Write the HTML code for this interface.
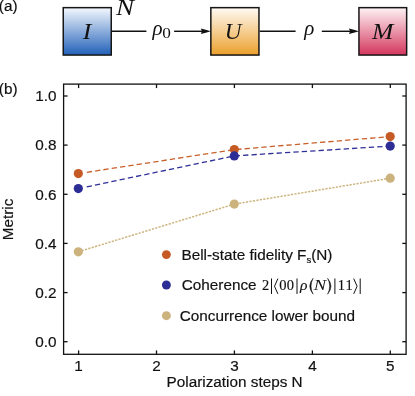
<!DOCTYPE html>
<html>
<head>
<meta charset="utf-8">
<title>Figure</title>
<style>
  html, body { margin: 0; padding: 0; background: #ffffff; }
  body { width: 415px; height: 396px; overflow: hidden; }
  svg { display: block; will-change: transform; }
  .sans { font-family: "Liberation Sans", sans-serif; font-size: 15.3px; fill: #111111; stroke: #111111; stroke-width: 0.18px; }
  .math { font-family: "Liberation Serif", serif; font-style: italic; fill: #111111; }
  .mathr { font-family: "Liberation Serif", serif; fill: #111111; }
</style>
</head>
<body>
<svg width="415" height="396" viewBox="0 0 415 396">
  <defs>
    <linearGradient id="gI" x1="0" y1="0" x2="0" y2="1">
      <stop offset="0" stop-color="#f4f8fd"/>
      <stop offset="1" stop-color="#2261ba"/>
    </linearGradient>
    <linearGradient id="gU" x1="0" y1="0" x2="0" y2="1">
      <stop offset="0" stop-color="#fffbf5"/>
      <stop offset="1" stop-color="#eba02c"/>
    </linearGradient>
    <linearGradient id="gM" x1="0" y1="0" x2="0" y2="1">
      <stop offset="0" stop-color="#fef3f5"/>
      <stop offset="1" stop-color="#d4365d"/>
    </linearGradient>
  </defs>
  <rect x="0" y="0" width="415" height="396" fill="#ffffff"/>

  <!-- (a) diagram -->
  <text class="sans" x="-1.2" y="10.9">(a)</text>

  <rect x="63.25" y="7.65" width="48.0" height="47.4" fill="url(#gI)" stroke="#161616" stroke-width="1.5"/>
  <rect x="210.85" y="7.65" width="48.1" height="47.4" fill="url(#gU)" stroke="#161616" stroke-width="1.5"/>
  <rect x="358.95" y="7.65" width="47.7" height="47.4" fill="url(#gM)" stroke="#161616" stroke-width="1.5"/>

  <text class="math" transform="translate(87 39) scale(1.15 1)" font-size="22.5" text-anchor="middle">I</text>
  <text class="math" transform="translate(233.1 39) scale(1.03 1)" font-size="22.5" text-anchor="middle">U</text>
  <text class="math" transform="translate(382.7 39) scale(1.14 1)" font-size="22.5" text-anchor="middle">M</text>
  <text class="math" transform="translate(125.0 15.4) scale(1.2 1)" font-size="22.5" text-anchor="middle">N</text>

  <g stroke="#111" stroke-width="1.45" fill="none">
    <line x1="112" y1="31.3" x2="146.4" y2="31.3"/>
    <line x1="174.1" y1="31.3" x2="203" y2="31.3"/>
    <line x1="259.7" y1="31.3" x2="295.6" y2="31.3"/>
    <line x1="321.8" y1="31.3" x2="351" y2="31.3"/>
  </g>
  <path d="M210.8 31.3 Q205.6 29.7 200.8 28.5 L202.0 31.3 L200.8 34.1 Q205.6 32.9 210.8 31.3 Z" fill="#111"/>
  <path d="M358.9 31.3 Q353.7 29.7 348.9 28.5 L350.1 31.3 L348.9 34.1 Q353.7 32.9 358.9 31.3 Z" fill="#111"/>

  <text class="math" x="152.4" y="35.0" font-size="21">ρ</text>
  <text class="mathr" transform="translate(166.5 38.2) scale(1.15 1)" text-anchor="middle" font-size="15">0</text>
  <text class="math" x="304.2" y="35.0" font-size="21">ρ</text>

  <!-- (b) chart -->
  <text class="sans" x="-1.2" y="94.4">(b)</text>

  <!-- frame -->
  <rect x="63.6" y="84.1" width="342.5" height="270.2" fill="none" stroke="#111" stroke-width="1.3"/>
  <g stroke="#111" stroke-width="1.3">
    <!-- x ticks bottom -->
    <line x1="78.6" y1="354.3" x2="78.6" y2="350.4"/>
    <line x1="156.5" y1="354.3" x2="156.5" y2="350.4"/>
    <line x1="234.4" y1="354.3" x2="234.4" y2="350.4"/>
    <line x1="312.4" y1="354.3" x2="312.4" y2="350.4"/>
    <line x1="390.3" y1="354.3" x2="390.3" y2="350.4"/>
    <!-- x ticks top -->
    <line x1="78.6" y1="84.1" x2="78.6" y2="88.1"/>
    <line x1="156.5" y1="84.1" x2="156.5" y2="88.1"/>
    <line x1="234.4" y1="84.1" x2="234.4" y2="88.1"/>
    <line x1="312.4" y1="84.1" x2="312.4" y2="88.1"/>
    <line x1="390.3" y1="84.1" x2="390.3" y2="88.1"/>
    <!-- y ticks left -->
    <line x1="63.6" y1="341.7" x2="67.6" y2="341.7"/>
    <line x1="63.6" y1="292.6" x2="67.6" y2="292.6"/>
    <line x1="63.6" y1="243.4" x2="67.6" y2="243.4"/>
    <line x1="63.6" y1="194.3" x2="67.6" y2="194.3"/>
    <line x1="63.6" y1="145.1" x2="67.6" y2="145.1"/>
    <line x1="63.6" y1="96.0" x2="67.6" y2="96.0"/>
    <!-- y ticks right -->
    <line x1="406.1" y1="341.7" x2="402.3" y2="341.7"/>
    <line x1="406.1" y1="292.6" x2="402.3" y2="292.6"/>
    <line x1="406.1" y1="243.4" x2="402.3" y2="243.4"/>
    <line x1="406.1" y1="194.3" x2="402.3" y2="194.3"/>
    <line x1="406.1" y1="145.1" x2="402.3" y2="145.1"/>
    <line x1="406.1" y1="96.0" x2="402.3" y2="96.0"/>
  </g>

  <!-- y tick labels -->
  <g class="sans" text-anchor="end">
    <text x="56.6" y="101.2">1.0</text>
    <text x="56.6" y="150.3">0.8</text>
    <text x="56.6" y="199.5">0.6</text>
    <text x="56.6" y="248.6">0.4</text>
    <text x="56.6" y="297.8">0.2</text>
    <text x="56.6" y="346.9">0.0</text>
  </g>
  <!-- x tick labels -->
  <g class="sans" text-anchor="middle">
    <text x="78.6" y="371">1</text>
    <text x="156.5" y="371">2</text>
    <text x="234.4" y="371">3</text>
    <text x="312.4" y="371">4</text>
    <text x="390.3" y="371">5</text>
  </g>
  <text class="sans" x="234.6" y="387" text-anchor="middle">Polarization steps N</text>
  <text class="sans" transform="translate(12.6 219.4) rotate(-90)" text-anchor="middle">Metric</text>

  <!-- data lines -->
  <polyline points="86.8,172.3 234.3,149.6 390.2,136.6" fill="none" stroke="#c8602c" stroke-width="1.3" stroke-dasharray="5.3 3.1"/>
  <polyline points="86.7,186.85 234.3,155.9 390.2,146.1" fill="none" stroke="#2f3097" stroke-width="1.3" stroke-dasharray="5.3 3.1"/>
  <polyline points="78.3,251.8 234.3,204.1 390.2,178.2" fill="none" stroke="#cdb47e" stroke-width="1.5" stroke-dasharray="2.2 1.3"/>

  <!-- data points -->
  <g fill="#c55a25">
    <circle cx="78.3" cy="173.6" r="4.6"/>
    <circle cx="234.3" cy="149.6" r="4.6"/>
    <circle cx="390.2" cy="136.6" r="4.6"/>
  </g>
  <g fill="#2c2d95">
    <circle cx="78.3" cy="188.6" r="4.6"/>
    <circle cx="234.3" cy="155.9" r="4.6"/>
    <circle cx="390.2" cy="146.1" r="4.6"/>
  </g>
  <g fill="#ccb27c">
    <circle cx="78.3" cy="251.8" r="4.6"/>
    <circle cx="234.3" cy="204.1" r="4.6"/>
    <circle cx="390.2" cy="178.2" r="4.6"/>
  </g>

  <!-- legend -->
  <circle cx="166.4" cy="254.6" r="4.45" fill="#c55a25"/>
  <circle cx="166.4" cy="285.0" r="4.45" fill="#2c2d95"/>
  <circle cx="166.4" cy="315.7" r="4.45" fill="#ccb27c"/>

  <text class="sans" x="181.5" y="259.6">Bell-state fidelity F<tspan font-size="9.5" dy="3">s</tspan><tspan dy="-3">(N)</tspan></text>
  <text class="sans" x="181.8" y="290.3">Coherence</text>
  <g class="mathr" font-size="14.5" text-anchor="middle" stroke="#111" stroke-width="0.15">
    <text x="265.7" y="290.4">2</text>
    <text x="282.8" y="290.4">0</text>
    <text x="290.4" y="290.4">0</text>
    <text x="341.3" y="290.4">1</text>
    <text x="349.2" y="290.4">1</text>
  </g>
  <text class="math" x="303.7" y="290.4" font-size="15.5" text-anchor="middle" stroke="#111" stroke-width="0.12">ρ</text>
  <text class="math" transform="translate(320 290.4) scale(1.2 1)" font-size="15.5" text-anchor="middle">N</text>
  <g stroke="#111" stroke-width="1.0" fill="none">
    <line x1="271.5" y1="278.5" x2="271.5" y2="294"/>
    <line x1="297.0" y1="278.5" x2="297.0" y2="294"/>
    <line x1="334.9" y1="278.5" x2="334.9" y2="294"/>
    <line x1="360.2" y1="278.5" x2="360.2" y2="294"/>
    <polyline points="277.9,278.6 274.5,286.25 277.9,293.9"/>
    <polyline points="353.7,278.6 357.1,286.25 353.7,293.9"/>
  </g>
  <path d="M313.1 278.3 Q306.3 286.25 313.1 294.2 Q308.9 286.25 313.1 278.3 Z" fill="#111" stroke="#111" stroke-width="0.5" stroke-linejoin="round"/>
  <path d="M327.6 278.3 Q334.4 286.25 327.6 294.2 Q331.8 286.25 327.6 278.3 Z" fill="#111" stroke="#111" stroke-width="0.5" stroke-linejoin="round"/>
  <text class="sans" x="179.8" y="320.6">Concurrence lower bound</text>
</svg>
</body>
</html>
